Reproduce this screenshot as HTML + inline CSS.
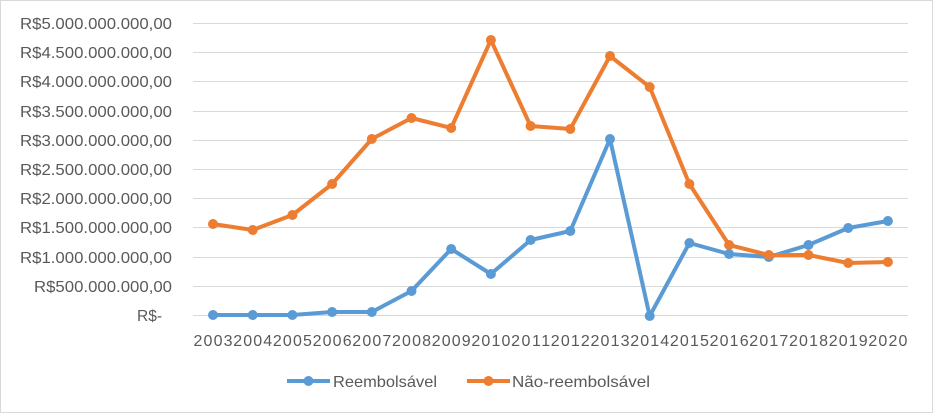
<!DOCTYPE html>
<html><head><meta charset="utf-8"><style>
body{margin:0;background:#fff}
svg{display:block;font-family:"Liberation Sans",sans-serif}
</style></head><body>
<svg width="933" height="413" viewBox="0 0 933 413">
<rect x="0.5" y="0.5" width="932" height="412" fill="#fff" stroke="#d9d9d9"/>
<g stroke="#d9d9d9" stroke-width="1">
<line x1="193" x2="908" y1="23.5" y2="23.5"/><line x1="193" x2="908" y1="52.5" y2="52.5"/><line x1="193" x2="908" y1="81.5" y2="81.5"/><line x1="193" x2="908" y1="111.5" y2="111.5"/><line x1="193" x2="908" y1="140.5" y2="140.5"/><line x1="193" x2="908" y1="169.5" y2="169.5"/><line x1="193" x2="908" y1="198.5" y2="198.5"/><line x1="193" x2="908" y1="227.5" y2="227.5"/><line x1="193" x2="908" y1="257.5" y2="257.5"/><line x1="193" x2="908" y1="286.5" y2="286.5"/><line x1="193" x2="908" y1="315.5" y2="315.5"/>
</g>
<g fill="#595959" font-size="16" text-anchor="end">
<text x="172" y="29" textLength="152" lengthAdjust="spacingAndGlyphs">R$5.000.000.000,00</text><text x="172" y="58" textLength="152" lengthAdjust="spacingAndGlyphs">R$4.500.000.000,00</text><text x="172" y="87" textLength="152" lengthAdjust="spacingAndGlyphs">R$4.000.000.000,00</text><text x="172" y="117" textLength="152" lengthAdjust="spacingAndGlyphs">R$3.500.000.000,00</text><text x="172" y="146" textLength="152" lengthAdjust="spacingAndGlyphs">R$3.000.000.000,00</text><text x="172" y="175" textLength="152" lengthAdjust="spacingAndGlyphs">R$2.500.000.000,00</text><text x="172" y="204" textLength="152" lengthAdjust="spacingAndGlyphs">R$2.000.000.000,00</text><text x="172" y="233" textLength="152" lengthAdjust="spacingAndGlyphs">R$1.500.000.000,00</text><text x="172" y="263" textLength="152" lengthAdjust="spacingAndGlyphs">R$1.000.000.000,00</text><text x="172" y="292" textLength="138" lengthAdjust="spacingAndGlyphs">R$500.000.000,00</text><text x="162" y="321" textLength="25" lengthAdjust="spacingAndGlyphs">R$-</text>
</g>
<g fill="#595959" font-size="16" text-anchor="middle" textLength="39" lengthAdjust="spacingAndGlyphs">
<text x="213" y="346" textLength="39">2003</text><text x="252.7" y="346" textLength="39">2004</text><text x="292.4" y="346" textLength="39">2005</text><text x="332.1" y="346" textLength="39">2006</text><text x="371.8" y="346" textLength="39">2007</text><text x="411.5" y="346" textLength="39">2008</text><text x="451.2" y="346" textLength="39">2009</text><text x="490.9" y="346" textLength="39">2010</text><text x="530.6" y="346" textLength="39">2011</text><text x="570.3" y="346" textLength="39">2012</text><text x="610" y="346" textLength="39">2013</text><text x="649.7" y="346" textLength="39">2014</text><text x="689.4" y="346" textLength="39">2015</text><text x="729.1" y="346" textLength="39">2016</text><text x="768.8" y="346" textLength="39">2017</text><text x="808.5" y="346" textLength="39">2018</text><text x="848.2" y="346" textLength="39">2019</text><text x="887.9" y="346" textLength="39">2020</text>
</g>
<g fill="none" stroke-width="4" stroke-linejoin="round">
<polyline stroke="#5b9bd5" points="213,315 252.7,315 292.4,315 332.1,312 371.8,312 411.5,291 451.2,249 490.9,274 530.6,240 570.3,231 610,139 649.7,316 689.4,243 729.1,254 768.8,257 808.5,245 848.2,228 887.9,221"/>
<polyline stroke="#ed7d31" points="213,224 252.7,230 292.4,215 332.1,184 371.8,139 411.5,118 451.2,128 490.9,40 530.6,126 570.3,129 610,56 649.7,87 689.4,184 729.1,245 768.8,255 808.5,255 848.2,263 887.9,262"/>
</g>
<g fill="#5b9bd5">
<circle cx="213" cy="315" r="5"/><circle cx="252.7" cy="315" r="5"/><circle cx="292.4" cy="315" r="5"/><circle cx="332.1" cy="312" r="5"/><circle cx="371.8" cy="312" r="5"/><circle cx="411.5" cy="291" r="5"/><circle cx="451.2" cy="249" r="5"/><circle cx="490.9" cy="274" r="5"/><circle cx="530.6" cy="240" r="5"/><circle cx="570.3" cy="231" r="5"/><circle cx="610" cy="139" r="5"/><circle cx="649.7" cy="316" r="5"/><circle cx="689.4" cy="243" r="5"/><circle cx="729.1" cy="254" r="5"/><circle cx="768.8" cy="257" r="5"/><circle cx="808.5" cy="245" r="5"/><circle cx="848.2" cy="228" r="5"/><circle cx="887.9" cy="221" r="5"/>
</g>
<g fill="#ed7d31">
<circle cx="213" cy="224" r="5"/><circle cx="252.7" cy="230" r="5"/><circle cx="292.4" cy="215" r="5"/><circle cx="332.1" cy="184" r="5"/><circle cx="371.8" cy="139" r="5"/><circle cx="411.5" cy="118" r="5"/><circle cx="451.2" cy="128" r="5"/><circle cx="490.9" cy="40" r="5"/><circle cx="530.6" cy="126" r="5"/><circle cx="570.3" cy="129" r="5"/><circle cx="610" cy="56" r="5"/><circle cx="649.7" cy="87" r="5"/><circle cx="689.4" cy="184" r="5"/><circle cx="729.1" cy="245" r="5"/><circle cx="768.8" cy="255" r="5"/><circle cx="808.5" cy="255" r="5"/><circle cx="848.2" cy="263" r="5"/><circle cx="887.9" cy="262" r="5"/>
</g>
<line x1="287" x2="330" y1="381" y2="381" stroke="#5b9bd5" stroke-width="4"/><circle cx="308.5" cy="381" r="5" fill="#5b9bd5"/>
<text x="333" y="387" fill="#595959" font-size="16" textLength="104" lengthAdjust="spacingAndGlyphs">Reembolsável</text>
<line x1="467" x2="510" y1="381" y2="381" stroke="#ed7d31" stroke-width="4"/><circle cx="488.5" cy="381" r="5" fill="#ed7d31"/>
<text x="512" y="387" fill="#595959" font-size="16" textLength="138" lengthAdjust="spacingAndGlyphs">Não-reembolsável</text>
</svg>
</body></html>
